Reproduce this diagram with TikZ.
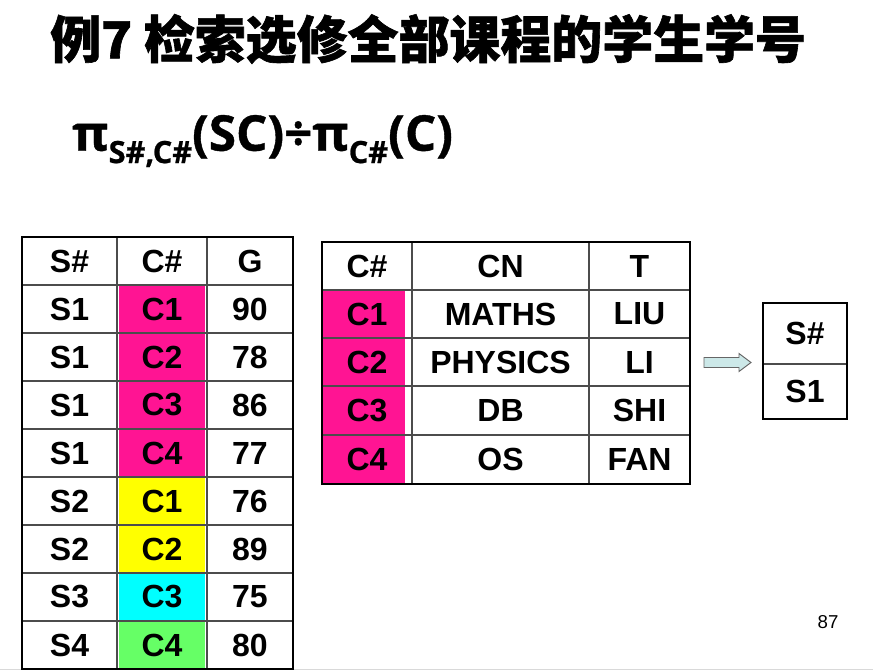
\documentclass[tikz,border=0pt]{standalone}
\usepackage{fontspec}
\setmainfont{Liberation Sans}
\newfontfamily\cjk{Noto Sans CJK SC}[BoldFeatures={FakeBold=1.2}]
\newfontfamily\formfont{Open Sans}[BoldFeatures={FakeBold=0.8}]
\definecolor{pk}{HTML}{FF1493}
\definecolor{yl}{HTML}{FFFF00}
\definecolor{cy}{HTML}{00FFFF}
\definecolor{gr}{HTML}{66FF66}
\definecolor{arrowfill}{HTML}{CCE8E8}
\begin{document}
\begin{tikzpicture}[x=0.75pt,y=-0.75pt,
  cell/.style={font=\fontsize{24}{24}\selectfont\bfseries, inner sep=0pt},
  outer/.style={line width=1.6pt, black},
  inner/.style={line width=0.8pt, black!70}]
\useasboundingbox (0,0) rectangle (873,670);
\fill[white] (0,0) rectangle (873,670);
\draw[black!15, line width=1pt] (0,669.3) -- (873,669.3);

% title
\node[anchor=west, inner sep=0pt, font=\cjk\bfseries\fontsize{38.2}{38.2}\selectfont] (title) at (50,39) {例7 检索选修全部课程的学生学号};

% formula
\node[anchor=west, inner sep=0pt, font=\formfont\bfseries\fontsize{37}{37}\selectfont] (formula) at (72,141) {π\raisebox{-0.25em}{\fontsize{23}{23}\selectfont S\#,C\#}(SC)÷π\raisebox{-0.25em}{\fontsize{23}{23}\selectfont C\#}(C)};

% table 1 fills
\foreach \r/\c in {1/pk,2/pk,3/pk,4/pk,5/yl,6/yl,7/cy,8/gr}
  \fill[\c] (119,{237+48*\r+1}) rectangle (205,{237+48*\r+47});
\foreach \k in {1,...,8} \draw[inner] (22,{237+48*\k}) -- (293,{237+48*\k});
\draw[inner] (117,237) -- (117,669);
\draw[inner] (207,237) -- (207,669);
\draw[outer] (22,237) rectangle (293,669);
\foreach [count=\i] \a/\b/\c in {S\#/C\#/G,S1/C1/90,S1/C2/78,S1/C3/86,S1/C4/77,S2/C1/76,S2/C2/89,S3/C3/75,S4/C4/80}{
  \node[cell] (ta\i) at (69.5,{213+48*\i}) {\a};
  \node[cell] (tb\i) at (162,{213+48*\i}) {\b};
  \node[cell] (tc\i) at (250,{213+48*\i}) {\c};
}

% table 2
\fill[pk] (322,290) rectangle (405,484);
\foreach \y in {290,338,386,435} \draw[inner] (322,\y) -- (690,\y);
\draw[inner] (412,242) -- (412,484);
\draw[inner] (589,242) -- (589,484);
\draw[outer] (322,242) rectangle (690,484);
\foreach [count=\i] \y/\a/\b/\c in {266/C\#/CN/T,314/C1/MATHS/LIU,362/C2/PHYSICS/LI,410.5/C3/DB/SHI,459.5/C4/OS/FAN}{
  \node[cell] (ua\i) at (367,\y) {\a};
  \node[cell] (ub\i) at (500.5,\y) {\b};
  \node[cell] (uc\i) at (639.5,\y) {\c};
}

% arrow
\draw[fill=arrowfill, draw=black!60, line width=0.7pt, line join=miter]
  (704,357.5) -- (739,357.5) -- (739,353.5) -- (751,362.5) -- (739,371.5) -- (739,367.5) -- (704,367.5) -- cycle;

% result table
\draw[inner] (763,364) -- (847,364);
\draw[outer] (763,303) rectangle (847,419);
\node[cell] (r1) at (805,333.5) {S\#};
\node[cell] (r2) at (805,391.5) {S1};

% page number
\node[font=\fontsize{14}{14}\selectfont, inner sep=0pt] (pg) at (828,622) {87};
\end{tikzpicture}
\end{document}
